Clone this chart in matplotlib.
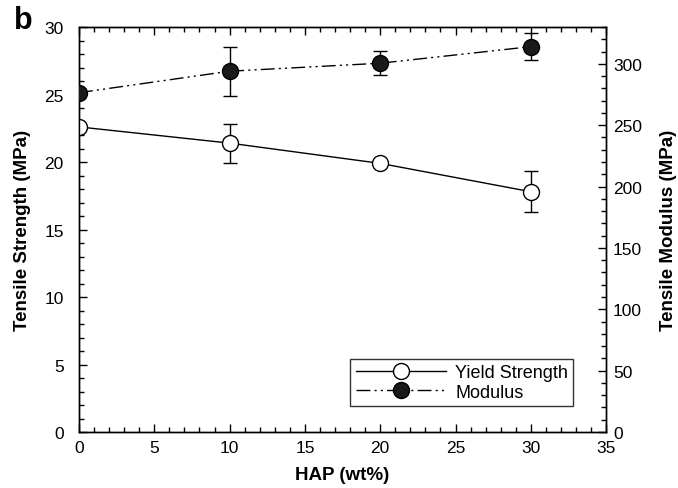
import matplotlib
matplotlib.use("Agg")
import matplotlib.pyplot as plt
from matplotlib.ticker import MultipleLocator
from matplotlib.lines import Line2D

plt.rcParams['font.family'] = ['Liberation Sans', 'DejaVu Sans']

hap = [0, 10, 20, 30]
yield_strength = [22.6, 21.4, 19.9, 17.8]
yield_err = [0.0, 1.45, 0.2, 1.5]
modulus = [276.5, 294, 300.5, 314]
modulus_err = [3, 20, 10, 11]

fig = plt.figure(figsize=(6.78, 4.89), dpi=100)
ax = fig.add_axes([0.1165, 0.1145, 0.7775, 0.8282])
ax2 = ax.twinx()

ms = 11.5
dash = (10, 3, 1.5, 3, 1.5, 3)
ax.errorbar(hap, yield_strength, yerr=yield_err, fmt='-', color='black', lw=1.0,
            marker='o', ms=ms, mfc='white', mec='black', mew=1.0,
            capsize=5, elinewidth=1.0, capthick=1.0, zorder=3)
ax2.errorbar(hap, modulus, yerr=modulus_err, fmt='-', color='black', lw=1.0,
             dashes=dash,
             marker='o', ms=ms, mfc='#1a1a1a', mec='black', mew=1.0,
             capsize=5, elinewidth=1.0, capthick=1.0, zorder=3)

ax.set_xlim(0, 35)
ax.set_ylim(0, 30)
ax2.set_ylim(0, 330)

ax.xaxis.set_major_locator(MultipleLocator(5))
ax.xaxis.set_minor_locator(MultipleLocator(1))
ax.yaxis.set_major_locator(MultipleLocator(5))
ax.yaxis.set_minor_locator(MultipleLocator(1))
ax2.yaxis.set_major_locator(MultipleLocator(50))
ax2.yaxis.set_minor_locator(MultipleLocator(10))

fs_tick = 12.5
ax.tick_params(axis='x', which='both', direction='in', top=True, bottom=True, labelsize=fs_tick, pad=6)
ax.tick_params(axis='y', which='both', direction='in', left=True, right=False, labelsize=fs_tick, pad=11)
ax.tick_params(which='major', length=6, width=1)
ax.tick_params(which='minor', length=3.6, width=1)
ax2.tick_params(axis='y', which='both', direction='in', labelsize=fs_tick, pad=5)
ax2.tick_params(which='major', length=6, width=1)
ax2.tick_params(which='minor', length=3.6, width=1)

for a in (ax, ax2):
    for s in a.spines.values():
        s.set_linewidth(1.0)

fs_lab = 13.5
ax.set_xlabel('HAP (wt%)', fontsize=fs_lab, fontweight='bold')
ax.set_ylabel('Tensile Strength (MPa)', fontsize=fs_lab, fontweight='bold')
ax2.set_ylabel('Tensile Modulus (MPa)', fontsize=fs_lab, fontweight='bold')
ax.xaxis.set_label_coords(0.5, -0.1037)
ax.yaxis.set_label_coords(-0.108, 0.5)
ax2.yaxis.set_label_coords(1.1177, 0.5)
ax.xaxis.label.set_va('center')
ax.yaxis.label.set_va('center')
ax2.yaxis.label.set_va('center')

fig.text(0.034, 0.957, 'b', fontsize=22, fontweight='bold', va='center', ha='center')

h1 = Line2D([], [], color='black', lw=1.0, marker='o', ms=ms, mfc='white', mec='black')
h2 = Line2D([], [], color='black', lw=1.0, dashes=dash, marker='o', ms=ms,
            mfc='#1a1a1a', mec='black')
leg = ax2.legend([h1, h2], ['Yield Strength', 'Modulus'], loc='lower left',
                 bbox_to_anchor=(0.515, 0.064), fontsize=13, frameon=True, fancybox=False,
                 edgecolor='black', handlelength=5.0, borderpad=0.3, labelspacing=0.15,
                 handletextpad=0.5, borderaxespad=0)
leg.get_frame().set_linewidth(1.0)

fig.savefig('out.png', dpi=100)
